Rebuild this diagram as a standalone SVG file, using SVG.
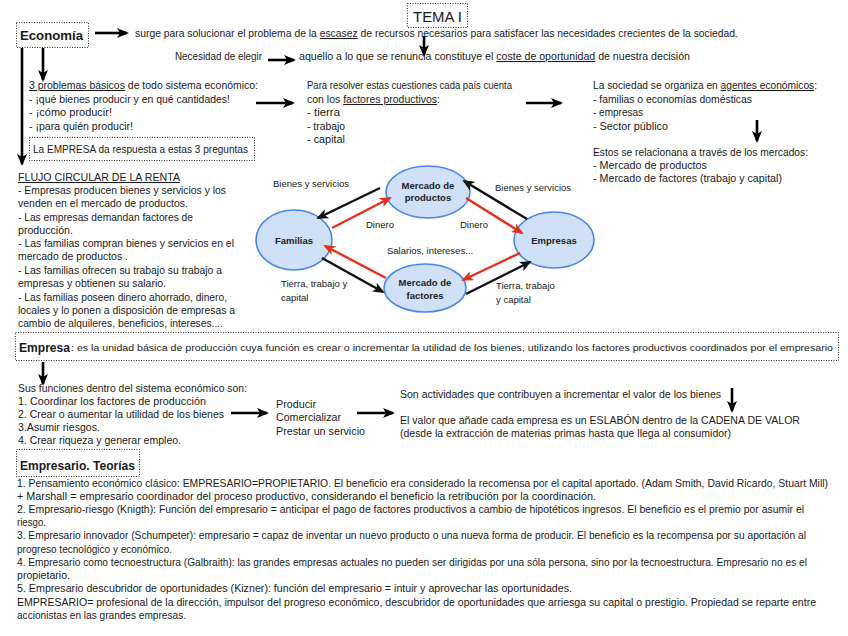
<svg xmlns="http://www.w3.org/2000/svg" width="848" height="636" viewBox="0 0 848 636">
<style>
text{font-family:"Liberation Sans",Arial,sans-serif;font-size:10.5px;fill:#1a1a1a}
.b{font-weight:bold;font-size:13px}
.u{text-decoration:underline}
.sm{font-size:9.5px}
.nd{font-size:9.5px;text-anchor:middle;font-weight:bold;fill:#222}
.box{fill:none;stroke:#333;stroke-width:1;stroke-dasharray:1 1.5}
.ar{stroke:#000;stroke-width:2.6;fill:none;marker-end:url(#ah)}
.bk{stroke:#111;stroke-width:2.4;fill:none;marker-end:url(#hb)}
.rd{stroke:#e2311d;stroke-width:2.4;fill:none;marker-end:url(#hr)}
.el{fill:#cfe0f7;stroke:#4a86e8;stroke-width:1.6}
</style>
<defs>
<marker id="ah" markerUnits="userSpaceOnUse" markerWidth="12" markerHeight="12" viewBox="0 0 12 12" refX="10" refY="6" orient="auto"><path d="M0,1 L12,6 L0,11 L3,6 Z" fill="#000"/></marker>
<marker id="hb" markerUnits="userSpaceOnUse" markerWidth="12" markerHeight="12" viewBox="0 0 12 12" refX="10" refY="6" orient="auto"><path d="M0,1 L12,6 L0,11 L3,6 Z" fill="#111"/></marker>
<marker id="hr" markerUnits="userSpaceOnUse" markerWidth="12" markerHeight="12" viewBox="0 0 12 12" refX="10" refY="6" orient="auto"><path d="M0,1 L12,6 L0,11 L3,6 Z" fill="#e2311d"/></marker>
</defs>
<rect width="848" height="636" fill="#fff"/>

<g id="tema">
<rect class="box" x="407.5" y="3.5" width="60" height="24"/>
<text x="413" y="22" style="font-size:15px" textLength="49" lengthAdjust="spacingAndGlyphs">TEMA I</text>
</g>

<g id="economia">
<rect class="box" x="16.5" y="22.5" width="72" height="25"/>
<text class="b" x="20" y="40" textLength="63" lengthAdjust="spacingAndGlyphs">Economía</text>
</g>

<g id="top-text">
<text x="135" y="37" textLength="603" lengthAdjust="spacingAndGlyphs">surge para solucionar el problema de la <tspan class="u">escasez</tspan> de recursos necesarios para satisfacer las necesidades crecientes de la sociedad.</text>
<text x="175" y="60" textLength="87" lengthAdjust="spacingAndGlyphs">Necesidad de elegir</text>
<text x="299" y="60" textLength="391" lengthAdjust="spacingAndGlyphs">aquello a lo que se renuncia constituye el <tspan class="u">coste de oportunidad</tspan> de nuestra decisión</text>
</g>

<g id="problemas">
<text x="29" y="89" textLength="229" lengthAdjust="spacingAndGlyphs"><tspan class="u">3 problemas básicos</tspan> de todo sistema económico:</text>
<text x="29" y="103" textLength="201" lengthAdjust="spacingAndGlyphs">- ¡qué bienes producir y en qué cantidades!</text>
<text x="29" y="116" textLength="83" lengthAdjust="spacingAndGlyphs">- ¡cómo producir!</text>
<text x="29" y="130" textLength="104" lengthAdjust="spacingAndGlyphs">- ¡para quién producir!</text>
</g>

<g id="empresa-respuesta">
<rect class="box" x="29.5" y="137.5" width="225" height="23"/>
<text x="33" y="153" textLength="215" lengthAdjust="spacingAndGlyphs">La EMPRESA da respuesta a estas 3 preguntas</text>
</g>

<g id="factores">
<text x="307" y="89" textLength="205" lengthAdjust="spacingAndGlyphs">Para resolver estas cuestiones cada país cuenta</text>
<text x="307" y="103" textLength="133" lengthAdjust="spacingAndGlyphs">con los <tspan class="u">factores productivos</tspan>:</text>
<text x="307" y="116" textLength="33" lengthAdjust="spacingAndGlyphs">- tierra</text>
<text x="307" y="130" textLength="38" lengthAdjust="spacingAndGlyphs">- trabajo</text>
<text x="307" y="143" textLength="38" lengthAdjust="spacingAndGlyphs">- capital</text>
</g>

<g id="agentes">
<text x="593" y="89" textLength="224" lengthAdjust="spacingAndGlyphs">La sociedad se organiza en <tspan class="u">agentes económicos</tspan>:</text>
<text x="593" y="103" textLength="159" lengthAdjust="spacingAndGlyphs">- familias o economías domésticas</text>
<text x="593" y="116" textLength="50" lengthAdjust="spacingAndGlyphs">- empresas</text>
<text x="593" y="130" textLength="75" lengthAdjust="spacingAndGlyphs">- Sector público</text>
</g>

<g id="mercados">
<text x="593" y="156" textLength="215" lengthAdjust="spacingAndGlyphs">Estos se relacionana a través de los mercados:</text>
<text x="593" y="169" textLength="114" lengthAdjust="spacingAndGlyphs">- Mercado de productos</text>
<text x="593" y="182" textLength="189" lengthAdjust="spacingAndGlyphs">- Mercado de factores (trabajo y capital)</text>
</g>

<g id="flujo">
<text x="18" y="181" textLength="162" lengthAdjust="spacingAndGlyphs" class="u">FLUJO CIRCULAR DE LA RENTA</text>
<text x="18" y="194" textLength="208" lengthAdjust="spacingAndGlyphs">- Empresas producen bienes y servicios y los</text>
<text x="18" y="207" textLength="170" lengthAdjust="spacingAndGlyphs">venden en el mercado de productos.</text>
<text x="18" y="221" textLength="175" lengthAdjust="spacingAndGlyphs">- Las empresas demandan factores de</text>
<text x="18" y="234" textLength="55" lengthAdjust="spacingAndGlyphs">producción.</text>
<text x="18" y="247" textLength="216" lengthAdjust="spacingAndGlyphs">- Las familias compran bienes y servicios en el</text>
<text x="18" y="260" textLength="110" lengthAdjust="spacingAndGlyphs">mercado de productos .</text>
<text x="18" y="274" textLength="204" lengthAdjust="spacingAndGlyphs">- Las familias ofrecen su trabajo su trabajo a</text>
<text x="18" y="287" textLength="148" lengthAdjust="spacingAndGlyphs">empresas y obtienen su salario.</text>
<text x="18" y="301" textLength="209" lengthAdjust="spacingAndGlyphs">- Las familias poseen dinero ahorrado, dinero,</text>
<text x="18" y="314" textLength="217" lengthAdjust="spacingAndGlyphs">locales y lo ponen a disposición de empresas a</text>
<text x="18" y="327" textLength="205" lengthAdjust="spacingAndGlyphs">cambio de alquileres, beneficios, intereses....</text>
</g>

<g id="familias">
<ellipse class="el" cx="294" cy="240" rx="38" ry="30"/>
<text class="nd" x="294" y="244">Familias</text>
</g>
<g id="mercado-productos">
<ellipse class="el" cx="428" cy="192" rx="42" ry="26"/>
<text class="nd" x="428" y="189">Mercado de</text>
<text class="nd" x="428" y="201">productos</text>
</g>
<g id="empresas">
<ellipse class="el" cx="554" cy="240" rx="40" ry="28"/>
<text class="nd" x="554" y="244">Empresas</text>
</g>
<g id="mercado-factores">
<ellipse class="el" cx="425" cy="288" rx="41" ry="24"/>
<text class="nd" x="425" y="286">Mercado de</text>
<text class="nd" x="425" y="299">factores</text>
</g>

<g id="flow-labels">
<text class="sm" x="273" y="187">Bienes y servicios</text>
<text class="sm" x="495" y="191">Bienes y servicios</text>
<text class="sm" x="366" y="228">Dinero</text>
<text class="sm" x="460" y="228">Dinero</text>
<text class="sm" x="387" y="254">Salarios, intereses...</text>
<text class="sm" x="281" y="287">Tierra, trabajo y</text>
<text class="sm" x="281" y="301">capital</text>
<text class="sm" x="496" y="289">Tierra, trabajo</text>
<text class="sm" x="496" y="303">y capital</text>
</g>

<g id="empresa-def">
<rect class="box" x="15.5" y="332.5" width="823" height="28"/>
<text class="b" x="19" y="352" textLength="51" lengthAdjust="spacingAndGlyphs">Empresa</text>
<text x="71" y="351" class="sm" textLength="762" lengthAdjust="spacingAndGlyphs">: es la unidad básica de producción cuya función es crear o incrementar la utilidad de los bienes, utilizando los factores productivos coordinados por el empresario</text>
</g>

<g id="funciones">
<text x="18" y="392" textLength="229" lengthAdjust="spacingAndGlyphs">Sus funciones dentro del sistema económico son:</text>
<text x="18" y="405" textLength="188" lengthAdjust="spacingAndGlyphs">1. Coordinar los factores de producción</text>
<text x="18" y="418" textLength="206" lengthAdjust="spacingAndGlyphs">2. Crear o aumentar la utilidad de los bienes</text>
<text x="18" y="431" textLength="82" lengthAdjust="spacingAndGlyphs">3.Asumir riesgos.</text>
<text x="18" y="444" textLength="163" lengthAdjust="spacingAndGlyphs">4. Crear riqueza y generar empleo.</text>
</g>

<g id="actividades">
<text x="276" y="408" textLength="40" lengthAdjust="spacingAndGlyphs">Producir</text>
<text x="276" y="421" textLength="65" lengthAdjust="spacingAndGlyphs">Comercializar</text>
<text x="276" y="435" textLength="89" lengthAdjust="spacingAndGlyphs">Prestar un servicio</text>
</g>

<g id="valor">
<text x="400" y="398" textLength="321" lengthAdjust="spacingAndGlyphs">Son actividades que contribuyen a incrementar el valor de los bienes</text>
<text x="400" y="424" textLength="400" lengthAdjust="spacingAndGlyphs">El valor que añade cada empresa es un ESLABÓN dentro de la CADENA DE VALOR</text>
<text x="400" y="437" textLength="331" lengthAdjust="spacingAndGlyphs">(desde la extracción de materias primas hasta que llega al consumidor)</text>
</g>

<g id="empresario">
<rect class="box" x="16.5" y="449.5" width="123" height="27"/>
<text class="b" x="20" y="470" textLength="115" lengthAdjust="spacingAndGlyphs">Empresario. Teorías</text>
</g>

<g id="teorias">
<text x="17" y="487" textLength="811" lengthAdjust="spacingAndGlyphs">1. Pensamiento económico clásico: EMPRESARIO=PROPIETARIO. El beneficio era considerado la recomensa por el capital aportado. (Adam Smith, David Ricardo, Stuart Mill)</text>
<text x="17" y="500" textLength="579" lengthAdjust="spacingAndGlyphs">+ Marshall = empresario coordinador del proceso productivo, considerando el beneficio la retribución por la coordinación.</text>
<text x="17" y="513" textLength="787" lengthAdjust="spacingAndGlyphs">2. Empresario-riesgo (Knigth): Función del empresario = anticipar el pago de factores productivos a cambio de hipotéticos ingresos. El beneficio es el premio por asumir el</text>
<text x="17" y="526" textLength="29" lengthAdjust="spacingAndGlyphs">riesgo.</text>
<text x="17" y="539" textLength="789" lengthAdjust="spacingAndGlyphs">3. Empresario innovador (Schumpeter): empresario = capaz de inventar un nuevo producto o una nueva forma de producir. El beneficio es la recompensa por su aportación al</text>
<text x="17" y="553" textLength="155" lengthAdjust="spacingAndGlyphs">progreso tecnológico y económico.</text>
<text x="17" y="566" textLength="790" lengthAdjust="spacingAndGlyphs">4. Empresario como tecnoestructura (Galbraith): las grandes empresas actuales no pueden ser dirigidas por una sóla persona, sino por la tecnoestructura. Empresario no es el</text>
<text x="17" y="579" textLength="53" lengthAdjust="spacingAndGlyphs">propietario.</text>
<text x="17" y="592" textLength="555" lengthAdjust="spacingAndGlyphs">5. Empresario descubridor de oportunidades (Kizner): función del empresario = intuir y aprovechar las oportunidades.</text>
<text x="17" y="606" textLength="799" lengthAdjust="spacingAndGlyphs">EMPRESARIO= profesional de la dirección, impulsor del progreso económico, descubridor de oportunidades que arriesga su capital o prestigio. Propiedad se reparte entre</text>
<text x="17" y="619" textLength="169" lengthAdjust="spacingAndGlyphs">accionistas en las grandes empresas.</text>
</g>

<g id="connectors">
<line class="ar" x1="95" y1="33" x2="127" y2="33"/>
<line class="ar" x1="424" y1="36" x2="424" y2="55"/>
<line class="ar" x1="268" y1="60" x2="294" y2="60"/>
<line class="ar" x1="22" y1="48" x2="22" y2="164"/>
<line class="ar" x1="43" y1="48" x2="43" y2="80"/>
<line class="ar" x1="256" y1="103" x2="293" y2="103"/>
<line class="ar" x1="526" y1="103" x2="561" y2="103"/>
<line class="ar" x1="757" y1="120" x2="757" y2="141"/>
<line class="ar" x1="43" y1="362" x2="43" y2="384"/>
<line class="ar" x1="231" y1="413" x2="267" y2="413"/>
<line class="ar" x1="357" y1="413" x2="393" y2="413"/>
<line class="ar" x1="732" y1="388" x2="732" y2="411"/>

<line class="bk" x1="380" y1="188" x2="318" y2="218"/>
<line class="rd" x1="332" y1="228" x2="390" y2="198"/>
<line class="bk" x1="527" y1="219" x2="464" y2="181"/>
<line class="rd" x1="466" y1="198" x2="522" y2="233"/>
<line class="rd" x1="520" y1="253" x2="463" y2="280"/>
<line class="bk" x1="466" y1="294" x2="530" y2="262"/>
<line class="rd" x1="386" y1="278" x2="325" y2="246"/>
<line class="bk" x1="322" y1="258" x2="383" y2="292"/>
</g>
</svg>
